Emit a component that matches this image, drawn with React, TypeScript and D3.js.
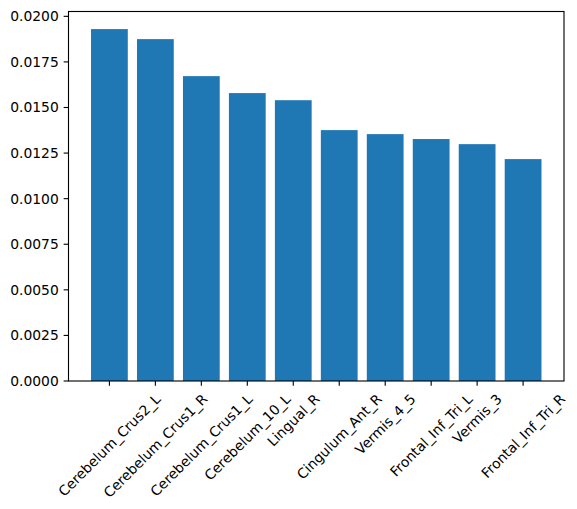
import React, { useEffect, useRef } from "react";
import * as d3 from "d3";

// region names, sorted by importance
const regions: string[] = [
  "Cerebelum_Crus2_L",
  "Cerebelum_Crus1_R",
  "Cerebelum_Crus1_L",
  "Cerebelum_10_L",
  "Lingual_R",
  "Cingulum_Ant_R",
  "Vermis_4_5",
  "Frontal_Inf_Tri_L",
  "Vermis_3",
  "Frontal_Inf_Tri_R",
];

const importance: number[] = [
  0.0193, 0.01875, 0.01672, 0.01579, 0.0154, 0.01376, 0.01354, 0.01327,
  0.01299, 0.01217,
];

const yTicks: number[] = [
  0, 0.0025, 0.005, 0.0075, 0.01, 0.0125, 0.015, 0.0175, 0.02,
];

const App: React.FC = () => {
  const chartRef = useRef<SVGSVGElement | null>(null);

  useEffect(() => {
    const node = chartRef.current;
    if (!node) return;

    const width = 577;
    const height = 509;
    const left = 68.5,
      right = 564,
      top = 11.5,
      bottom = 381;
    const pt = 100 / 72; // matplotlib points -> px at dpi 100
    const fontSize = 10 * pt;
    const tickLen = 3.5 * pt;
    const pad = 3.5 * pt;

    const svg = d3.select(node);
    svg.selectAll("*").remove();
    svg.attr("width", width).attr("height", height);

    svg.append("rect").attr("width", width).attr("height", height).attr("fill", "#fff");

    // x: bar index with matplotlib's 5% margins
    const n = regions.length;
    const span = n - 1 + 0.8;
    const xScale = d3
      .scaleLinear()
      .domain([-0.4 - span * 0.05, n - 1 + 0.4 + span * 0.05])
      .range([left, right]);

    const yMax = (d3.max(importance) || 0) * 1.05;
    const yScale = d3.scaleLinear().domain([0, yMax]).range([bottom, top]);

    // bars
    svg
      .append("g")
      .selectAll("rect")
      .data(importance)
      .join("rect")
      .attr("x", (_, i) => xScale(i - 0.4))
      .attr("width", (_, i) => xScale(i + 0.4) - xScale(i - 0.4))
      .attr("y", (d) => yScale(d))
      .attr("height", (d) => yScale(0) - yScale(d))
      .attr("fill", "#1f77b4");

    // spines
    svg
      .append("rect")
      .attr("x", left)
      .attr("y", top)
      .attr("width", right - left)
      .attr("height", bottom - top)
      .attr("fill", "none")
      .attr("stroke", "#000")
      .attr("stroke-width", 0.8 * pt);

    // y ticks
    const yg = svg.append("g");
    yTicks.forEach((t) => {
      const y = yScale(t);
      yg.append("line")
        .attr("x1", left - tickLen)
        .attr("x2", left)
        .attr("y1", y)
        .attr("y2", y)
        .attr("stroke", "#000")
        .attr("stroke-width", 0.8 * pt);
      yg.append("text")
        .attr("x", left - tickLen - pad)
        .attr("y", y)
        .attr("text-anchor", "end")
        .attr("dominant-baseline", "central")
        .style("font-family", "DejaVu Sans")
        .style("font-size", `${fontSize}px`)
        .attr("fill", "#000")
        .text(d3.format(".4f")(t));
    });

    // x ticks with 45 degree labels (centered bbox, top aligned)
    const xg = svg.append("g");
    const lineH = fontSize * 1.17;
    const c = Math.SQRT1_2;
    regions.forEach((name, i) => {
      const x = xScale(i);
      xg.append("line")
        .attr("x1", x)
        .attr("x2", x)
        .attr("y1", bottom)
        .attr("y2", bottom + tickLen)
        .attr("stroke", "#000")
        .attr("stroke-width", 0.8 * pt);
      const label = xg
        .append("text")
        .attr("text-anchor", "middle")
        .attr("dominant-baseline", "central")
        .style("font-family", "DejaVu Sans")
        .style("font-size", `${fontSize}px`)
        .attr("fill", "#000")
        .text(name);
      const w = (label.node() as SVGTextElement).getComputedTextLength();
      const boxH = (w + lineH) * c;
      const cy = bottom + tickLen + pad + boxH / 2;
      label.attr("transform", `translate(${x},${cy}) rotate(-45)`);
    });
  }, []);

  return (
    <svg
      ref={chartRef}
      style={{ position: "absolute", left: 0, top: 0, display: "block" }}
    />
  );
};

export default App;
